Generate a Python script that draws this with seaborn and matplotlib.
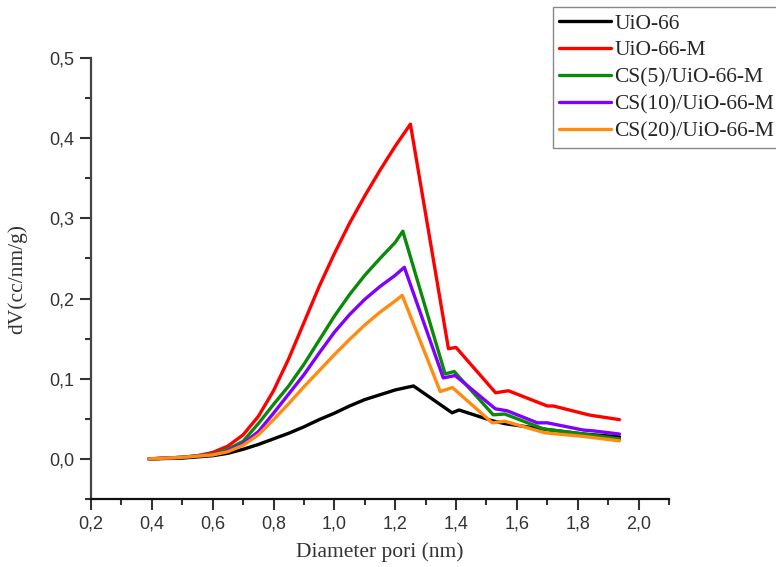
import matplotlib
matplotlib.use("Agg")
import matplotlib.pyplot as plt
from matplotlib.ticker import MultipleLocator, FuncFormatter
import pandas as pd
import seaborn as sns

# Series names and colours
labels = ["UiO-66", "UiO-66-M", "CS(5)/UiO-66-M", "CS(10)/UiO-66-M", "CS(20)/UiO-66-M"]
colors = ["#000000", "#ff0000", "#0a8a0a", "#8000ff", "#ff8c10"]

# Pore diameter (nm) and dV (cc/nm/g)
x_uio = [0.39, 0.5, 0.6, 0.65, 0.7, 0.75, 0.8, 0.85, 0.9, 0.95, 1.0, 1.05, 1.1, 1.15, 1.2, 1.26,
         1.387, 1.41, 1.52, 1.56, 1.69, 1.82, 1.937]
y_uio = [0.0, 0.001, 0.004, 0.007, 0.012, 0.018, 0.025, 0.032, 0.04, 0.049, 0.057, 0.066, 0.074, 0.08, 0.086, 0.091,
         0.0575, 0.061, 0.0475, 0.044, 0.037, 0.031, 0.0275]

x_uio_m = [0.39, 0.45, 0.5, 0.55, 0.6, 0.65, 0.7, 0.75, 0.8, 0.85, 0.9, 0.95, 1.0, 1.05, 1.1, 1.15, 1.2, 1.25,
           1.375, 1.40, 1.53, 1.572, 1.70, 1.72, 1.835, 1.85, 1.937]
y_uio_m = [0.0, 0.001, 0.002, 0.004, 0.008, 0.016, 0.03, 0.053, 0.085, 0.125, 0.17, 0.215, 0.256, 0.294, 0.328, 0.36, 0.39, 0.4175,
           0.1375, 0.139, 0.0825, 0.085, 0.066, 0.066, 0.055, 0.054, 0.049]

x_cs5 = [0.39, 0.5, 0.6, 0.65, 0.7, 0.75, 0.8, 0.85, 0.9, 0.95, 1.0, 1.05, 1.1, 1.15, 1.2, 1.225,
         1.364, 1.394, 1.522, 1.56, 1.687, 1.82, 1.937]
y_cs5 = [0.0, 0.002, 0.006, 0.012, 0.022, 0.044, 0.068, 0.091, 0.118, 0.148, 0.178, 0.205, 0.229, 0.25, 0.27, 0.284,
         0.106, 0.109, 0.055, 0.056, 0.0375, 0.031, 0.025]

x_cs10 = [0.39, 0.5, 0.6, 0.65, 0.7, 0.75, 0.8, 0.85, 0.9, 0.95, 1.0, 1.05, 1.1, 1.15, 1.2, 1.23,
          1.358, 1.397, 1.529, 1.568, 1.667, 1.70, 1.818, 1.85, 1.937]
y_cs10 = [0.0, 0.002, 0.005, 0.01, 0.019, 0.034, 0.057, 0.081, 0.105, 0.132, 0.158, 0.18, 0.199, 0.215, 0.229, 0.239,
          0.101, 0.104, 0.0625, 0.06, 0.045, 0.045, 0.036, 0.035, 0.031]

x_cs20 = [0.39, 0.5, 0.6, 0.65, 0.7, 0.75, 0.8, 0.85, 0.9, 0.95, 1.0, 1.05, 1.1, 1.15, 1.2, 1.223,
          1.348, 1.388, 1.519, 1.56, 1.693, 1.82, 1.937]
y_cs20 = [0.0, 0.002, 0.005, 0.009, 0.017, 0.03, 0.049, 0.069, 0.09, 0.11, 0.13, 0.149, 0.167, 0.183, 0.197, 0.204,
          0.084, 0.089, 0.045, 0.047, 0.0325, 0.028, 0.0225]

# Build long-form table for seaborn
xs = [x_uio, x_uio_m, x_cs5, x_cs10, x_cs20]
ys = [y_uio, y_uio_m, y_cs5, y_cs10, y_cs20]
frames = []
for name, xv, yv in zip(labels, xs, ys):
    frames.append(pd.DataFrame({"d": xv, "dv": yv, "sample": name}))
df = pd.concat(frames, ignore_index=True)

sns.set_style("ticks")

fig = plt.figure(figsize=(7.76, 5.67), dpi=100)
ax = fig.add_axes([91 / 776, 1 - 499 / 567, (669 - 91) / 776, (499 - 58) / 567])

sns.lineplot(data=df, x="d", y="dv", hue="sample", hue_order=labels,
             palette=dict(zip(labels, colors)), estimator=None, sort=False,
             linewidth=2.4, ax=ax, legend=False)

ax.set_xlim(0.2, 2.1)
ax.set_ylim(-0.05, 0.5)
ax.xaxis.set_major_locator(MultipleLocator(0.2))
ax.xaxis.set_minor_locator(MultipleLocator(0.1))
ax.yaxis.set_major_locator(MultipleLocator(0.1))
ax.yaxis.set_minor_locator(MultipleLocator(0.05))
comma = FuncFormatter(lambda v, p: f"{v:.1f}".replace(".", ","))
ax.xaxis.set_major_formatter(comma)
ax.yaxis.set_major_formatter(comma)

for s in ["top", "right"]:
    ax.spines[s].set_visible(False)
ax.spines["left"].set_color("#444444")
ax.spines["bottom"].set_color("#111111")
ax.spines["left"].set_linewidth(1.6)
ax.spines["bottom"].set_linewidth(1.6)
ax.tick_params(which="major", length=8, width=1.5, direction="out", color="#333333", pad=4)
ax.tick_params(which="minor", length=4, width=1.5, direction="out", color="#333333")
for lab in ax.get_xticklabels() + ax.get_yticklabels():
    lab.set_family("Liberation Sans")
    lab.set_fontsize(13)
    lab.set_color("#333333")

ax.set_xlabel("Diameter pori (nm)", family="Liberation Serif", fontsize=15.5, color="#333333", labelpad=7)
ax.set_ylabel("dV(cc/nm/g)", family="Liberation Serif", fontsize=15.5, color="#333333", labelpad=16)

# Legend in the top right corner, boxed
handles = [plt.Line2D([], [], color=c, linewidth=2.4) for c in colors]
fig.legend(handles, labels, loc="upper left", bbox_to_anchor=(553 / 776, 1 - 7 / 567),
           prop={"family": "Liberation Serif", "size": 15.5}, frameon=True, fancybox=False,
           edgecolor="#888888", framealpha=1, borderpad=0.3, labelspacing=0.32,
           handlelength=2.4, handletextpad=0.15, borderaxespad=0)

fig.savefig("out.png", dpi=100)
